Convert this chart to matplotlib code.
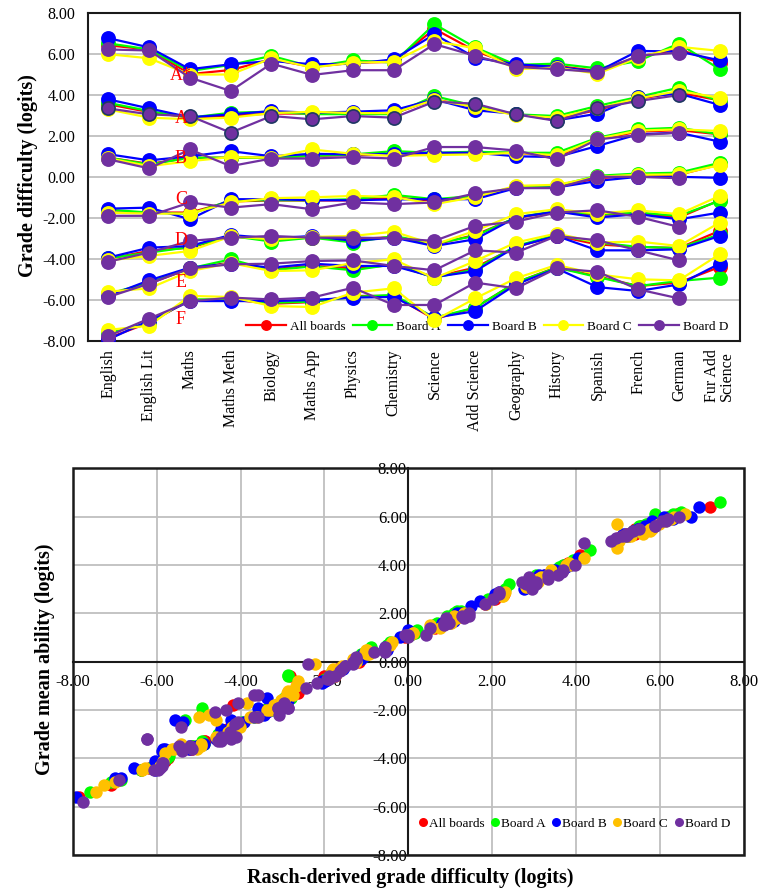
import numpy as np
import matplotlib
matplotlib.use("Agg")
import matplotlib.pyplot as plt
from matplotlib.lines import Line2D
from matplotlib.patches import Rectangle
from matplotlib.ticker import FormatStrFormatter

plt.rcParams["font.family"] = ["Liberation Serif", "DejaVu Serif"]

subjects = ["English", "English Lit", "Maths", "Maths Meth", "Biology", "Maths App",
            "Physics", "Chemistry", "Science", "Add Science", "Geography", "History",
            "Spanish", "French", "German", "Fur Add\nScience"]
grades = ["A*", "A", "B", "C", "D", "E", "F"]
grade_label_y = [4.94, 2.85, 0.9, -1.12, -3.1, -5.15, -6.95]
boards = ["All boards", "Board A", "Board B", "Board C", "Board D"]
nan = np.nan

# grade difficulty (logits), rows = grades A*..F, columns = subjects
diff_all = [
    [6.4, 6.2, 5.0, 5.2, 5.72, 5.35, 5.55, 5.6, 7.2, 6.13, 5.4, 5.4, 5.15, 5.85, 6.2, 5.56],
    [3.53, 3.15, 2.88, 2.98, 3.08, 3.08, 3.08, 3.08, 3.77, 3.4, 3.05, 2.85, 3.25, 3.8, 4.1, 3.72],
    [0.93, 0.63, 0.93, 0.93, 0.93, 1.02, 1.06, 1.06, 1.12, 1.17, 1.17, 1.0, 1.82, 2.2, 2.27, 2.07],
    [-1.74, -1.74, -1.74, -1.2, -1.15, -1.15, -1.15, -1.0, -1.17, -0.98, -0.5, -0.48, -0.07, 0.05, 0.1, 0.6],
    [-4.0, -3.6, -3.45, -2.9, -3.04, -2.96, -3.04, -2.93, -3.3, -2.83, -2.0, -1.7, -1.85, -1.8, -1.98, -1.14],
    [-5.72, -5.2, -4.46, -4.18, -4.5, -4.33, -4.46, -4.29, -4.88, -4.42, -3.41, -2.88, -3.29, -3.41, -3.47, -2.63],
    [-7.85, -7.1, -6.0, -5.97, -6.18, -6.1, -5.8, -5.8, -6.93, -6.37, -5.15, -4.4, -4.84, -5.32, -5.15, -4.39],
]
diff_a = [
    [6.5, 6.2, 5.15, 5.45, 5.89, 5.35, 5.67, 5.56, 7.43, 6.3, 5.45, 5.51, 5.28, 5.64, 6.49, 5.24],
    [3.6, 3.2, 2.88, 3.12, 3.17, 3.05, 3.05, 3.05, 3.93, 3.45, 3.04, 2.96, 3.45, 3.89, 4.34, 3.69],
    [0.93, 0.6, 0.93, 0.93, 0.93, 1.02, 1.09, 1.25, 1.17, 1.22, 1.17, 1.17, 1.9, 2.31, 2.39, 2.07],
    [-1.6, -1.74, -1.82, -1.15, -1.14, -1.14, -1.09, -0.88, -1.09, -0.93, -0.5, -0.44, 0.05, 0.16, 0.2, 0.68],
    [-3.96, -3.69, -3.42, -2.88, -3.15, -2.96, -3.2, -2.88, -3.25, -2.88, -1.98, -1.66, -1.82, -1.74, -1.9, -1.17],
    [-5.7, -5.15, -4.46, -4.02, -4.55, -4.36, -4.55, -4.26, -4.91, -4.5, -3.37, -2.83, -3.2, -3.41, -3.47, -2.8],
    [-7.6, -7.1, -5.97, -5.97, -6.13, -6.08, -5.85, -5.75, -6.86, -6.37, -5.15, -4.42, -4.88, -5.32, -5.07, -4.91],
]
diff_b = [
    [6.75, 6.3, 5.24, 5.48, 5.64, 5.48, 5.5, 5.72, 6.94, 5.8, 5.48, 5.35, 5.12, 6.13, 6.1, 5.67],
    [3.77, 3.33, 2.9, 3.04, 3.2, 3.12, 3.17, 3.24, 3.77, 3.24, 3.07, 2.75, 3.07, 3.89, 4.05, 3.5],
    [1.1, 0.8, 1.0, 1.25, 1.0, 1.12, 1.09, 1.12, 1.17, 1.17, 1.0, 0.96, 1.5, 2.07, 2.15, 1.71],
    [-1.55, -1.5, -2.07, -1.09, -1.09, -1.14, -1.14, -1.1, -1.09, -1.09, -0.55, -0.52, -0.2, 0.0, 0.0, -0.05],
    [-3.93, -3.45, -3.37, -2.83, -3.0, -2.88, -3.12, -2.96, -3.37, -3.04, -1.98, -1.69, -1.98, -1.82, -2.07, -1.74],
    [-5.8, -5.04, -4.42, -4.23, -4.42, -4.23, -4.34, -4.34, -4.88, -4.59, -3.41, -2.88, -3.58, -3.58, -3.53, -2.88],
    [-7.92, -7.0, -6.05, -6.05, -6.05, -6.0, -5.88, -5.85, -6.86, -6.54, -5.24, -4.46, -5.37, -5.56, -5.24, -4.23],
]
diff_c = [
    [5.97, 5.77, 4.98, 4.98, 5.77, 5.32, 5.56, 5.6, 6.6, 6.26, 5.24, 5.32, 5.02, 5.8, 6.33, 6.13],
    [3.28, 2.88, 2.8, 2.88, 3.1, 3.17, 3.1, 3.1, 3.75, 3.4, 3.0, 2.88, 3.33, 3.82, 4.18, 3.85],
    [0.9, 0.52, 0.76, 0.96, 0.93, 1.33, 1.12, 1.02, 1.06, 1.09, 1.17, 1.05, 1.85, 2.25, 2.31, 2.23],
    [-1.75, -1.79, -1.79, -1.25, -1.04, -1.0, -0.93, -0.98, -1.33, -0.98, -0.44, -0.39, 0.0, 0.1, 0.12, 0.57],
    [-4.07, -3.85, -3.61, -2.9, -3.04, -2.93, -2.88, -2.67, -3.3, -2.63, -1.82, -1.58, -1.79, -1.63, -1.82, -0.93],
    [-5.59, -5.43, -4.59, -4.2, -4.59, -4.55, -4.2, -4.02, -4.94, -4.1, -3.2, -2.76, -3.2, -3.15, -3.37, -2.23],
    [-7.45, -7.25, -5.8, -5.85, -6.29, -6.34, -5.64, -5.43, -6.99, -5.92, -4.94, -4.29, -4.75, -4.99, -5.04, -3.77],
]
diff_d = [
    [6.2, 6.15, 4.83, 4.18, 5.51, 4.96, 5.19, 5.19, 6.46, 5.89, 5.35, 5.24, 5.1, 5.89, 6.05, nan],
    [3.33, 3.04, 2.96, 2.15, 2.96, 2.8, 2.96, 2.88, 3.66, 3.56, 3.04, 2.72, 3.33, 3.69, 3.98, nan],
    [0.85, 0.41, 1.33, 0.52, 0.89, 0.89, 0.96, 0.89, 1.45, 1.45, 1.28, 0.85, 1.82, 2.03, 2.15, nan],
    [-1.9, -1.9, -1.25, -1.5, -1.33, -1.58, -1.25, -1.33, -1.25, -0.81, -0.55, -0.55, 0.0, 0.0, -0.07, nan],
    [-4.13, -3.69, -3.12, -2.96, -2.88, -2.96, -2.96, -2.99, -3.12, -2.39, -2.18, -1.74, -1.63, -1.95, -2.44, nan],
    [-5.85, -5.2, -4.46, -4.26, -4.23, -4.1, -4.07, -4.34, -4.55, -3.58, -3.69, -2.88, -3.09, -3.58, -4.07, nan],
    [-7.75, -6.9, -6.07, -5.88, -5.97, -5.88, -5.4, -6.24, -6.24, -5.15, -5.43, -4.46, -4.62, -5.48, -5.92, nan],
]

# grade mean ability (logits), same layout
abil_all = [
    [6.1, 6.0, 5.1, 5.3, 5.7, 5.4, 5.6, 5.6, 6.4, 5.9, 5.3, 5.5, 5.2, 5.8, 5.9, 5.5],
    [3.8, 3.5, 3.2, 3.4, 3.4, 3.5, 3.4, 3.5, 4.0, 3.7, 3.3, 3.1, 3.6, 4.1, 4.4, 4.0],
    [1.7, 1.4, 1.6, 1.8, 1.7, 1.8, 1.8, 1.9, 1.8, 1.9, 2.0, 1.7, 2.4, 2.8, 2.8, 2.6],
    [-0.4, -0.5, -0.6, 0.1, 0.1, 0.2, 0.1, 0.3, 0.0, 0.3, 0.6, 0.6, 1.0, 1.1, 1.2, 1.5],
    [-2.6, -2.2, -2.1, -1.6, -1.7, -1.6, -1.7, -1.5, -2.0, -0.6, -0.6, -0.3, -0.5, -0.5, -0.7, 0.1],
    [-4.0, -3.6, -3.0, -1.8, -3.0, -2.8, -3.1, -2.8, -3.3, -2.9, -2.0, -1.6, -1.9, -2.0, -2.1, -1.3],
    [-5.6, -5.1, -4.3, -4.3, -4.4, -4.4, -4.1, -4.0, -4.9, -4.5, -3.6, -2.9, -3.3, -3.6, -3.5, -3.0],
]
abil_a = [
    [6.2, 6.0, 5.2, 5.5, 6.1, 5.4, 5.7, 5.6, 6.6, 6.1, 5.4, 5.6, 5.3, 5.6, 6.1, 5.2],
    [3.9, 3.5, 3.3, 3.5, 3.5, 3.4, 3.6, 3.4, 4.2, 3.7, 3.4, 3.3, 3.7, 4.1, 4.6, 4.0],
    [1.8, 1.5, 1.7, 1.9, 1.7, 1.8, 2.0, 2.1, 1.9, 2.0, 2.1, 1.9, 2.6, 3.0, 3.2, 2.7],
    [-0.3, -0.4, -0.6, 0.2, 0.3, 0.2, 0.3, 0.6, 0.2, 0.5, 0.7, 0.8, 1.1, 1.2, 1.3, 1.6],
    [-2.5, -2.3, -2.0, -0.6, -1.8, -1.5, -1.9, -1.4, -2.0, -0.55, -0.7, -0.3, -0.4, -0.4, -0.6, 0.1],
    [-3.9, -3.5, -2.9, -2.6, -3.1, -2.9, -3.0, -2.8, -1.9, -3.0, -2.0, -1.5, -1.9, -2.0, -2.1, -1.5],
    [-5.4, -5.0, -4.3, -4.2, -4.4, -4.3, -4.0, -4.0, -4.9, -4.5, -3.5, -2.9, -3.4, -2.4, -3.5, -3.3],
]
abil_b = [
    [6.0, 5.9, 5.2, 5.5, 5.6, 5.4, 5.5, 5.5, 6.4, 5.8, 5.5, 5.4, 5.3, 5.9, 6.0, 5.5],
    [4.0, 3.6, 3.2, 3.4, 3.5, 3.6, 3.5, 3.5, 3.9, 3.6, 3.3, 3.0, 3.3, 4.0, 4.3, 3.8],
    [1.8, 1.6, 1.7, 2.0, 1.8, 1.9, 1.7, 1.8, 1.9, 2.0, 1.6, 1.7, 2.3, 2.8, 2.9, 2.5],
    [-0.3, -0.2, -0.8, 0.2, 0.3, 0.2, 0.1, 0.2, 0.3, 0.2, 0.6, 0.5, 1.0, 1.2, 1.3, 1.1],
    [-2.5, -2.2, -1.5, -1.3, -1.9, -1.6, -1.8, -1.6, -2.1, -1.7, -0.8, -0.4, -0.8, -0.6, -0.9, -0.4],
    [-3.6, -3.5, -3.0, -2.4, -3.0, -2.9, -2.9, -2.9, -3.4, -3.2, -2.1, -1.6, -2.2, -1.9, -2.2, -1.5],
    [-5.6, -4.8, -4.4, -4.1, -4.5, -4.3, -3.7, -3.6, -4.8, -4.4, -3.5, -2.8, -2.5, -2.4, -3.6, -2.7],
]
abil_c = [
    [5.7, 5.5, 5.7, 4.7, 5.4, 5.3, 5.4, 5.3, 6.1, 5.9, 5.2, 5.2, 5.0, 5.5, 6.0, 5.8],
    [3.5, 3.1, 3.1, 3.2, 3.4, 3.5, 3.3, 3.4, 4.0, 3.8, 3.3, 3.2, 3.6, 4.1, 4.3, 4.0],
    [1.6, 1.5, 1.4, 1.7, 1.6, 2.0, 1.8, 1.6, 1.8, 1.9, 1.8, 1.7, 2.4, 2.7, 2.9, 2.7],
    [-0.6, -0.5, -0.3, 0.0, 0.4, 0.5, 0.4, 0.3, 0.1, 0.5, 0.7, 0.8, 1.1, 1.2, 1.2, 1.4],
    [-2.6, -1.7, -2.3, -1.3, -1.6, -1.5, -1.2, -1.0, -2.0, -0.8, -0.5, -0.2, -0.4, -0.3, -0.4, 0.3],
    [-3.6, -3.4, -3.1, -2.7, -2.4, -3.2, -2.8, -2.7, -3.5, -2.6, -1.9, -1.4, -1.8, -1.8, -2.0, -0.1],
    [-5.4, -5.1, -3.8, -4.1, -4.4, -4.5, -3.6, -3.5, -5.0, -4.3, -3.4, -2.9, -2.2, -2.3, -3.6, -2.3],
]
abil_d = [
    [5.9, 5.8, 5.0, 4.9, 5.5, 5.1, 5.2, 5.3, 6.0, 5.6, 5.4, 5.3, 5.2, 5.6, 5.8, nan],
    [3.6, 3.2, 3.3, 2.9, 3.1, 3.2, 3.0, 3.5, 3.7, 3.6, 3.3, 3.3, 3.4, 3.8, 4.0, nan],
    [1.5, 1.1, 1.8, 1.4, 1.6, 1.7, 1.6, 1.8, 2.0, 1.9, 1.9, 1.6, 2.4, 2.6, 2.8, nan],
    [-0.6, -0.7, 0.1, -0.2, 0.0, -0.3, 0.2, -0.1, 0.1, 0.4, 0.4, 0.6, 1.0, 1.1, 1.1, nan],
    [-2.6, -1.4, -1.9, -1.8, -1.9, -1.8, -1.7, -1.8, -1.9, -0.1, -0.9, -0.6, -0.4, -0.7, -1.1, nan],
    [-4.2, -3.5, -3.1, -2.9, -3.2, -3.1, -1.7, -2.0, -3.3, -1.4, -2.3, -1.9, -2.2, -2.3, -2.5, nan],
    [-5.8, -4.9, -4.5, -4.3, -4.5, -4.2, -3.7, -3.2, -3.2, -3.6, -2.7, -3.3, -2.1, -3.5, -4.4, nan],
]

line_colors = ["#FF0000", "#00FF00", "#0000FF", "#FFFF00", "#7030A0"]
dot_colors = ["#FF0000", "#00FF00", "#0000FF", "#FFC000", "#7030A0"]
grid_col = "#BFBFBF"
frame_col = "#1a1a1a"

fig = plt.figure(figsize=(7.59, 8.93), dpi=100)

# ---- top: grade difficulty by subject ----
ax1 = fig.add_axes([0.116, 0.618, 0.859, 0.368])
x = np.arange(len(subjects))
diffs = [diff_all, diff_a, diff_b, diff_c, diff_d]
for b, (name, data, col) in enumerate(zip(boards, diffs, line_colors)):
    for g, row in enumerate(data):
        edge = col
        if g == 1 and name == "Board D":
            edge = "#1F3864"
        ax1.plot(x, row, color=col, linewidth=1.6, marker="o", markersize=9.5,
                 markerfacecolor=col, markeredgecolor=edge, markeredgewidth=1.2,
                 label=name if g == 0 else None, zorder=3 + b)

for lab, yy in zip(grades, grade_label_y):
    ax1.text(1.78, yy, lab, color="#FF0000", fontsize=13, ha="center", va="center", zorder=10)

ax1.set_xlim(-0.5, len(subjects) - 0.5)
ax1.set_ylim(-8, 8)
ax1.set_yticks(np.arange(-8, 9, 2))
ax1.yaxis.set_major_formatter(FormatStrFormatter("%.2f"))
ax1.set_xticks(x)
ax1.set_xticklabels(subjects, rotation=90, fontsize=11.5, linespacing=0.95)
ax1.tick_params(axis="both", length=0, labelsize=11.5)
ax1.tick_params(axis="x", pad=6)
ax1.tick_params(axis="y", pad=9)
ax1.grid(True, axis="y", color=grid_col, linewidth=1.3)
ax1.set_axisbelow(True)
for sp in ax1.spines.values():
    sp.set_linewidth(1.5)
    sp.set_color(frame_col)
ax1.legend(loc="lower right", bbox_to_anchor=(1.0, -0.01), ncol=5, frameon=False,
           fontsize=9.5, handlelength=3.0, handletextpad=0.3, columnspacing=0.55,
           markerscale=0.7)
fig.text(0.037, 0.803, "Grade difficulty (logits)", rotation=90, fontsize=14.5,
         fontweight="bold", ha="center", va="center")

# ---- bottom: difficulty vs mean ability ----
ax2 = fig.add_axes([0.096, 0.0426, 0.884, 0.433])
abils = [abil_all, abil_a, abil_b, abil_c, abil_d]
for b, (name, dd, aa, col) in enumerate(zip(boards, diffs, abils, dot_colors)):
    ax2.scatter(np.ravel(dd), np.ravel(aa), s=80, color=col, linewidths=0,
                label=name, zorder=3 + b)

ax2.set_xlim(-8, 8)
ax2.set_ylim(-8, 8)
ax2.set_xticks(np.arange(-8, 9, 2))
ax2.set_yticks(np.arange(-8, 9, 2))
ax2.xaxis.set_major_formatter(FormatStrFormatter("%.2f"))
ax2.yaxis.set_major_formatter(FormatStrFormatter("%.2f"))
ax2.grid(True, color=grid_col, linewidth=1.3)
ax2.set_axisbelow(True)
ax2.spines["left"].set_position("zero")
ax2.spines["bottom"].set_position("zero")
ax2.spines["top"].set_visible(False)
ax2.spines["right"].set_visible(False)
for k in ["left", "bottom"]:
    ax2.spines[k].set_linewidth(1.5)
    ax2.spines[k].set_color(frame_col)
    ax2.spines[k].set_zorder(2)
ax2.add_patch(Rectangle((0, 0), 1, 1, transform=ax2.transAxes, fill=False,
                        linewidth=1.8, edgecolor=frame_col, clip_on=False, zorder=9))
ax2.tick_params(axis="both", length=0, labelsize=12)
ax2.tick_params(axis="x", pad=9)
ax2.tick_params(axis="y", pad=1)

handles = [Line2D([0], [0], marker="o", linestyle="", markersize=6.5,
                  markerfacecolor=c, markeredgewidth=0) for c in dot_colors]
ax2.legend(handles, boards, loc="lower right", bbox_to_anchor=(0.997, 0.035), ncol=5,
           frameon=False, fontsize=9.5, handlelength=0.8, handletextpad=0.05,
           columnspacing=0.4)

fig.text(0.059, 0.262, "Grade mean ability (logits)", rotation=90, fontsize=14.5,
         fontweight="bold", ha="center", va="center")
fig.text(0.54, 0.017, "Rasch-derived grade difficulty (logits)", fontsize=14.5,
         fontweight="bold", ha="center", va="center")

fig.savefig("out.png", dpi=100)
